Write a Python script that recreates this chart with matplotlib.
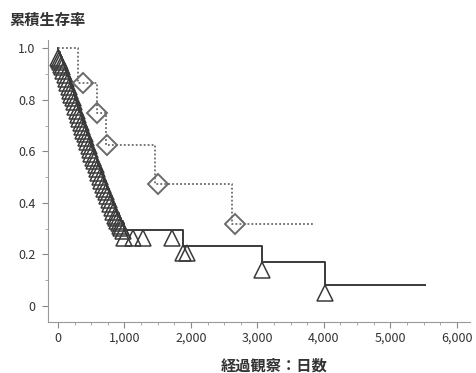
import matplotlib.pyplot as plt
import matplotlib.transforms as mtransforms
from matplotlib.ticker import MultipleLocator, FuncFormatter

plt.rcParams['font.family'] = ['Noto Sans CJK JP', 'DejaVu Sans']

# solid series (triangles): early dense events, then later steps
tri_t = [0, 15, 30, 45, 60, 80, 100, 120, 140, 160, 180, 200, 220, 240, 260, 280,
         300, 320, 340, 360, 380, 400, 420, 440, 460, 480, 500, 520,
         545, 565, 590, 610, 635, 655, 680, 700, 725, 745, 770, 790, 815, 835, 855,
         875, 895, 915, 935, 955, 975, 1000,
         1880, 3068, 4015]
tri_s = [0.99, 0.985, 0.975, 0.965, 0.955, 0.94, 0.925, 0.91, 0.895, 0.88, 0.865,
         0.85, 0.835, 0.82, 0.80, 0.785, 0.77, 0.755, 0.74, 0.725, 0.71, 0.695, 0.68,
         0.665, 0.65, 0.635, 0.62, 0.605, 0.59, 0.575, 0.56, 0.545, 0.53, 0.515, 0.50,
         0.485, 0.47, 0.455, 0.44, 0.425, 0.41, 0.395, 0.38, 0.37, 0.36, 0.35, 0.34,
         0.33, 0.32, 0.294,
         0.233, 0.170, 0.080]
tri_end = 5520

# triangle marks that sit on the flat part
tri_mark_t = [1130, 1280, 1714, 1940]
tri_mark_s = [0.294, 0.294, 0.294, 0.233]

# dotted series (diamonds)
dia_t = [300, 590, 720, 1460, 2620]
dia_s = [0.865, 0.748, 0.624, 0.474, 0.316]
dia_mark_t = [370, 590, 740, 1510, 2660]
dia_end = 3870

fig = plt.figure(figsize=(4.76, 3.73), dpi=100)
ax = fig.add_axes([0.1008, 0.1367, 0.886, 0.756])

line_col = '#3a3a3a'
dot_col = '#6a6a6a'

# step lines
ax.step([0] + tri_t + [tri_end], [1.0] + tri_s + [tri_s[-1]], where='post',
        color=line_col, lw=1.4)
ax.step([0] + dia_t + [dia_end], [1.0] + dia_s + [dia_s[-1]], where='post',
        color=dot_col, lw=1.3, ls=(0, (1, 1.2)))

# triangles hang below the step point
down = mtransforms.offset_copy(ax.transData, fig=fig, x=0, y=-5.5, units='points')
ax.plot(tri_t + tri_mark_t, tri_s + tri_mark_s, ls='none', marker='^', ms=11,
        mfc='none', mec=line_col, mew=1.1, transform=down)
ax.plot(dia_mark_t, dia_s, ls='none', marker='D', ms=10, mfc='none',
        mec=dot_col, mew=1.4)

ax.set_xlim(-150, 6195)
ax.set_ylim(-0.063, 1.032)
ax.xaxis.set_major_locator(MultipleLocator(1000))
ax.xaxis.set_minor_locator(MultipleLocator(250))
ax.yaxis.set_major_locator(MultipleLocator(0.2))
ax.yaxis.set_minor_locator(MultipleLocator(0.1))
ax.xaxis.set_major_formatter(FuncFormatter(lambda v, p: f'{int(v):,}'))
ax.yaxis.set_major_formatter(FuncFormatter(lambda v, p: '0' if abs(v) < 1e-9 else f'{v:.1f}'))

for s in ['top', 'right']:
    ax.spines[s].set_visible(False)
for s in ['left', 'bottom']:
    ax.spines[s].set_color('#999999')
    ax.spines[s].set_linewidth(0.8)
ax.tick_params(which='major', length=4, color='#888888', labelsize=9,
               labelcolor='#333333')
ax.tick_params(which='minor', length=2.5, color='#999999')
ax.tick_params(axis='x', pad=3)
ax.tick_params(axis='y', pad=5)

fig.text(0.02, 0.946, '累積生存率', fontsize=11, color='#333333', va='center',
         fontweight='bold')
fig.text(0.576, 0.02, '経過観察：日数', fontsize=11, color='#333333',
         ha='center', va='center', fontweight='bold')

fig.savefig('out.png', dpi=100)
